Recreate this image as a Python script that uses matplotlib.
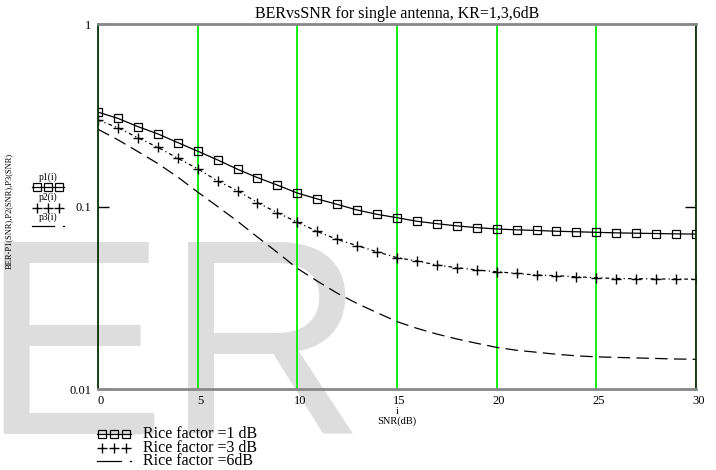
import numpy as np
import matplotlib
matplotlib.use("Agg")
import matplotlib.pyplot as plt
import matplotlib.transforms as mtrans

plt.rcParams["font.family"] = ["Liberation Serif", "DejaVu Serif"]

# data (BER vs SNR, single antenna)
snr = list(range(0, 31))
p1 = [0.329, 0.304, 0.274, 0.250, 0.224, 0.201, 0.180, 0.160, 0.144, 0.131,
      0.1185, 0.110, 0.1027, 0.0957, 0.0906, 0.0868, 0.0830, 0.0805, 0.0783, 0.0766,
      0.0753, 0.0745, 0.0739, 0.0732, 0.0727, 0.0722, 0.0717, 0.0714, 0.0711, 0.0708,
      0.0706]
p2 = [0.298, 0.270, 0.238, 0.211, 0.184, 0.161, 0.138, 0.122, 0.105, 0.0925,
      0.0820, 0.0730, 0.0660, 0.0610, 0.0565, 0.0524, 0.0503, 0.0478, 0.0462, 0.0449,
      0.0439, 0.0430, 0.0421, 0.0418, 0.0412, 0.0407, 0.0403, 0.0402, 0.0401, 0.0400,
      0.0400]
p3 = [0.265, 0.232, 0.200, 0.172, 0.145, 0.120, 0.100, 0.083, 0.068, 0.056,
      0.0458, 0.0390, 0.0335, 0.0294, 0.0262, 0.0234, 0.0215, 0.0200, 0.0188, 0.0178,
      0.0169, 0.0163, 0.0159, 0.0155, 0.0152, 0.0150, 0.0149, 0.0148, 0.0147, 0.0146,
      0.01455]
xticks = [0, 5, 10, 15, 20, 25, 30]
yticks = [0.01, 0.1, 1]
ylabels = ["0.01", "0.1", "1"]
legend_labels = ["Rice factor =1 dB", "Rice factor =3 dB", "Rice factor =6dB"]
trace_labels = ["p1(i)", "p2(i)", "p3(i)"]

W, H = 716, 470
fig = plt.figure(figsize=(W / 100, H / 100), dpi=100, facecolor="white")

# background watermark, pixel coordinates
bg = fig.add_axes([0, 0, 1, 1], zorder=-1)
bg.set_xlim(0, W); bg.set_ylim(H, 0); bg.axis("off")
bg.text(-20, 434, "ER", fontsize=200, family="Liberation Sans", color="#dddddd",
        ha="left", va="baseline")

ax = fig.add_axes([98 / W, 1 - 389 / H, 598 / W, 365 / H], zorder=0)
ax.patch.set_alpha(0)
ax.set_yscale("log")
ax.set_xlim(0, 30)
ax.set_ylim(0.01, 1)

ax.plot(snr, p1, color="black", lw=0.9, marker="s", ms=5.5, mfc="none", mew=0.9)
ax.plot(snr, p2, color="black", lw=0.9, dashes=(3, 2.5, 1, 2.5), marker="+", ms=7, mew=1.0)
ax.plot(snr, p3, color="black", lw=0.9, dashes=(10, 5))

ax.set_xticks(xticks)
ax.set_xticklabels([str(t) for t in xticks], fontsize=9)
ax.tick_params(axis="x", length=0, pad=4)
off = mtrans.ScaledTranslation(2.5 / 100, 0, fig.dpi_scale_trans)
for lab in ax.get_xticklabels():
    lab.set_transform(lab.get_transform() + off)
ax.grid(axis="x", color="#11ee11", lw=1.4)
ax.set_axisbelow(True)

ax.set_yticks(yticks)
ax.set_yticklabels(ylabels, fontsize=9)
ax.yaxis.set_minor_locator(matplotlib.ticker.NullLocator())
ax.tick_params(axis="y", direction="in", length=8, width=1, right=True, pad=5)

for s in ("top", "bottom"):
    ax.spines[s].set_color("#888888")
    ax.spines[s].set_linewidth(2)
for s in ("left", "right"):
    ax.spines[s].set_color("#103010")
    ax.spines[s].set_linewidth(1.3)

fig.suptitle("BERvsSNR for single antenna, KR=1,3,6dB", x=397 / W, y=1 - 14 / H,
             va="center", fontsize=11.5)
fig.text(9 / W, 1 - 211 / H, "BER-P1(SNR),P2(SNR),P3(SNR)", rotation=90,
         ha="center", va="center", fontsize=6)
fig.text(397 / W, 1 - 412 / H, "i", ha="center", va="center", fontsize=7)
fig.text(397 / W, 1 - 421 / H, "SNR(dB)", ha="center", va="center", fontsize=7.5)

# legend samples, pixel coordinates
ov = fig.add_axes([0, 0, 1, 1], zorder=2)
ov.set_xlim(0, W); ov.set_ylim(H, 0); ov.axis("off")


def samples(x0, x1, ys):
    xs = np.linspace(x0 + 5, x1 - 5, 3)
    ov.plot([x0, x1], [ys[0]] * 2, color="black", lw=0.9)
    ov.plot(xs, [ys[0]] * 3, ls="none", marker="s", ms=5.5, mfc="none", mec="black", mew=0.9)
    ov.plot(xs, [ys[1]] * 3, ls="none", marker="+", ms=7, mec="black", mew=1.0)
    ov.plot([x0, x0 + 0.7 * (x1 - x0)], [ys[2]] * 2, color="black", lw=0.9)
    ov.plot([x1 - 1, x1], [ys[2]] * 2, color="black", lw=0.9)


# trace labels on the left
samples(32, 64, [187, 207.5, 226])
for lab, y in zip(trace_labels, [177, 197.5, 217.5]):
    ov.text(48, y, lab, ha="center", va="center", fontsize=7)

# bottom legend
samples(97, 131, [434, 447.5, 461])
for lab, y in zip(legend_labels, [434, 447.5, 461]):
    ov.text(143, y, lab, ha="left", va="center", fontsize=11.5)

fig.savefig("out.png", dpi=100, facecolor="white")
